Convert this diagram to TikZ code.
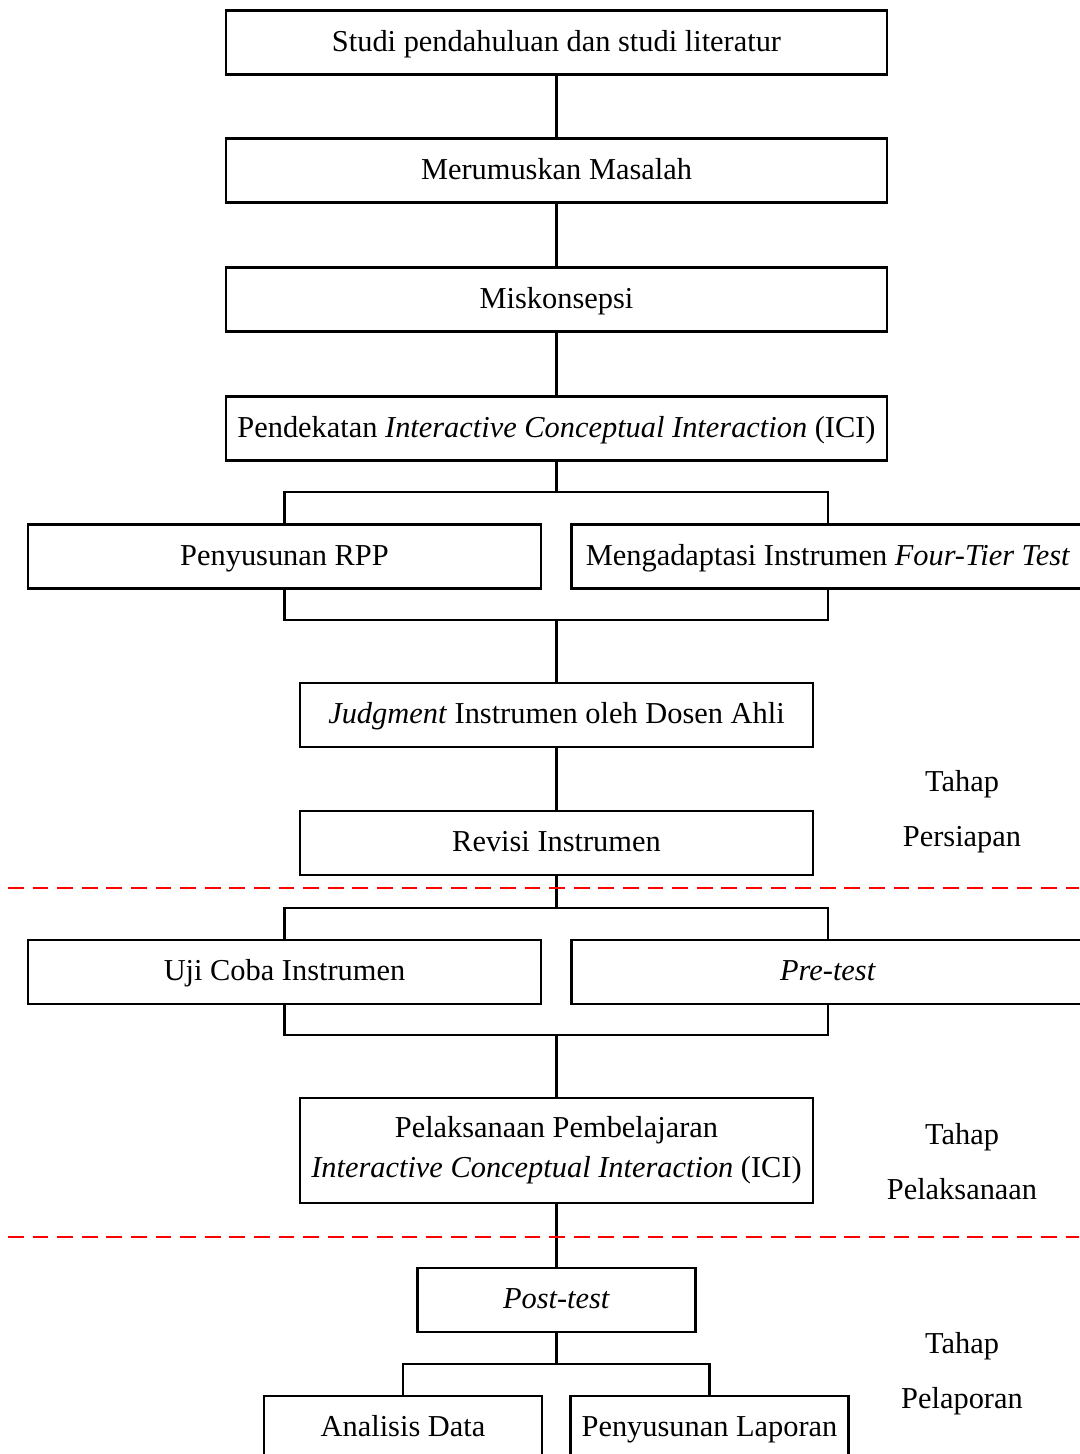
\documentclass[tikz,border=0pt]{standalone}
\usepackage{fontspec}
\setmainfont{Liberation Serif}
\begin{document}
\begin{tikzpicture}[
        x=0.02cm, y=-0.02cm,
        box/.style={draw, line width=1.4pt, rectangle, inner sep=0pt, align=center,
            minimum height=1.28cm, font=\fontsize{17.3}{22.8}\selectfont},
        line/.style={box, text height=13.6pt, text depth=3.4pt},
        wide/.style={line, minimum width=13.22cm},
        half/.style={line, minimum width=10.26cm},
        small/.style={line, minimum width=5.56cm},
        stage/.style={align=center, inner sep=0pt, font=\fontsize{17.3}{31.3}\selectfont},
        link/.style={draw, line width=1.3pt},
        sep/.style={draw=red, line width=0.9pt, dash pattern=on 9pt off 5pt},
    ]
    \useasboundingbox (0,0) rectangle (1079,1454);

    \node[wide](studi) at (556.5,42.5){Studi pendahuluan dan studi literatur};
    \node[wide](rumus) at (556.5,170.5){Merumuskan Masalah};
    \node[wide](misk) at (556.5,299.5){Miskonsepsi};
    \node[wide](ici) at (556.5,428.5){Pendekatan \textit{Interactive Conceptual Interaction} (ICI)};
    \node[half](rpp) at (284.5,556.5){Penyusunan RPP};
    \node[half](ftt) at (828,556.5){Mengadaptasi Instrumen \textit{Four-Tier Test}};
    \node[half](judg) at (556.5,715){\textit{Judgment} Instrumen oleh Dosen Ahli};
    \node[half](rev) at (556.5,843){Revisi Instrumen};
    \node[half](uji) at (284.5,972){Uji Coba Instrumen};
    \node[half](pre) at (828,972){\textit{Pre-test}};
    \node[box, minimum width=10.26cm, minimum height=2.1cm](laks) at (556.5,1150.5){Pelaksanaan Pembelajaran\\\textit{Interactive Conceptual Interaction} (ICI)};
    \node[small](post) at (556.5,1300){\textit{Post-test}};
    \node[small](anal) at (403,1428){Analisis Data};
    \node[small](lapor) at (709.5,1428){Penyusunan Laporan};

    \node[stage](persiapan) at (962,812){Tahap\\Persiapan};
    \node[stage](pelaksanaan) at (962,1162){Tahap\\Pelaksanaan};
    \node[stage](pelaporan) at (962,1374){Tahap\\Pelaporan};

    \coordinate (b1) at (556.5,492);
    \coordinate (b2) at (556.5,620);
    \coordinate (b3) at (556.5,908);
    \coordinate (b4) at (556.5,1035);
    \coordinate (b5) at (556.5,1364);

    \draw[link] (studi) -- (rumus);
    \draw[link] (rumus) -- (misk);
    \draw[link] (misk) -- (ici);
    \draw[link] (ici) -- (b1);
    \draw[link] (rpp.north) |- (b1) -| (ftt.north);
    \draw[link] (rpp.south) |- (b2) -| (ftt.south);
    \draw[link] (b2) -- (judg);
    \draw[link] (judg) -- (rev);
    \draw[link] (rev) -- (b3);
    \draw[link] (uji.north) |- (b3) -| (pre.north);
    \draw[link] (uji.south) |- (b4) -| (pre.south);
    \draw[link] (b4) -- (laks);
    \draw[link] (laks) -- (post);
    \draw[link] (post) -- (b5);
    \draw[link] (anal.north) |- (b5) -| (lapor.north);

    \draw[sep] (8,888) -- (1079,888);
    \draw[sep] (8,1237) -- (1079,1237);
\end{tikzpicture}
\end{document}
